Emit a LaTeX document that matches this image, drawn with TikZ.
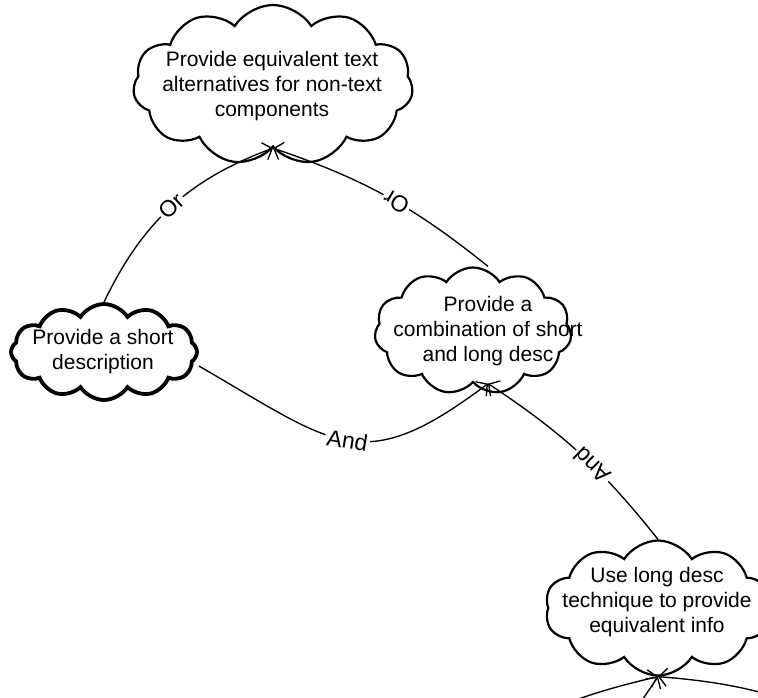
\documentclass[tikz,border=0pt]{standalone}
\usepackage{fontspec}
\setmainfont{Liberation Sans}
\usetikzlibrary{shapes.symbols,arrows.meta}

\tikzset{
  cloudbox/.style={cloud, draw, line width=2.2pt, cloud puffs=11, cloud puff arc=115, inner sep=0pt},
  cloudtext/.style={align=center, inner sep=0pt, font=\fontsize{21}{25}\selectfont},
  link/.style={line width=1.35pt, -{Straight Barb[length=8pt,width=18pt]}},
  rel/.style={sloped, allow upside down, fill=white, inner sep=2pt, font=\fontsize{23}{25}\selectfont}
}

\begin{document}
\begin{tikzpicture}[x=1pt, y=1pt]
  \clip (0,0) rectangle (758,-698);

  % --- clouds
  \node[cloudbox, minimum width=280pt, minimum height=160pt] (equiv) at (273,-85) {};
  \node[cloudtext] (equivtext) at (272,-86) {Provide equivalent text\\alternatives for non-text\\components};

  \node[cloudbox, line width=3.8pt, cloud puffs=12, minimum width=186pt, minimum height=96pt] (short) at (104,-352) {};
  \node[cloudtext] (shorttext) at (103,-352) {Provide a short\\description};

  \node[cloudbox, minimum width=197pt, minimum height=127pt] (combo) at (473,-331) {};
  \node[cloudtext] (combotext) at (488,-331) {Provide a\\combination of short\\and long desc};

  \node[cloudbox, cloud puffs=10, minimum width=226pt, minimum height=135pt] (tech) at (658,-608) {};
  \node[cloudtext] (techtext) at (657,-602) {Use long desc\\technique to provide\\equivalent info};

  % --- relations
  \draw[link] (short.north) to[bend left=22] node[rel] (or1) {Or} (equiv.south);
  \draw[link] ([xshift=15pt]combo.north) to[bend right=10] node[rel, pos=0.45] (or2) {Or} (equiv.south);
  \draw[link] ([yshift=-14pt]short.east) to[out=-30, in=217, looseness=1.4] node[rel] (and1) {And} ([xshift=15pt]combo.south);
  \draw[link] (tech.north) to[bend right=9] node[rel, pos=0.42] (and2) {And} ([xshift=15pt]combo.south);

  % --- links from below the frame
  \coordinate (inA) at (520,-722);
  \coordinate (inB) at (622,-730);
  \coordinate (inC) at (830,-715);
  \draw[link] (inA) to[bend left=5] (tech.south);
  \draw[link] (inB) -- (tech.south);
  \draw[link] (inC) to[bend right=8] (tech.south);
\end{tikzpicture}
\end{document}
